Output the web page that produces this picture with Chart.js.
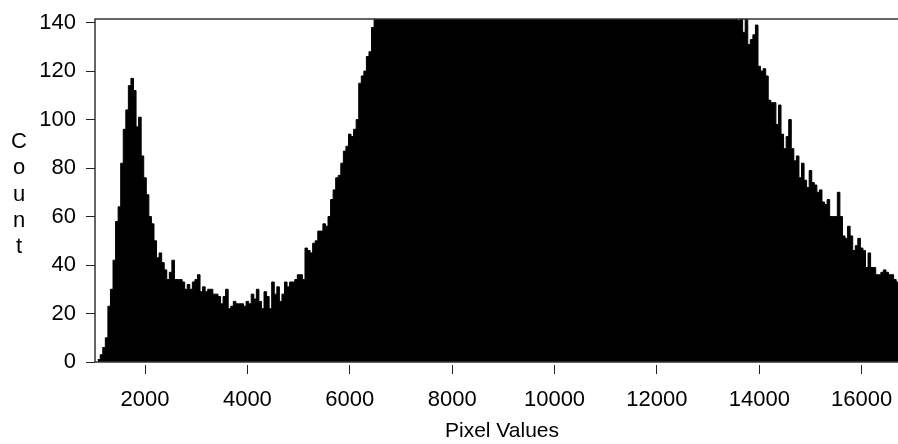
<!DOCTYPE html>
<html>
<head>
<meta charset="utf-8">
<script src="https://cdn.jsdelivr.net/npm/chart.js@4"></script>
<style>
  html, body { margin: 0; padding: 0; background: #fff; overflow: hidden; }
  #wrap { width: 912px; height: 444px; }
</style>
</head>
<body>
<div id="wrap"><canvas id="histo" width="912" height="444"></canvas></div>
<script>
// histogram bins: left edge of first bin and bin width, in pixel-value units
const binStart = 1075;
const binWidth = 50;

// low peak and the rise of the main hump
const riseCounts = [
  1, 3, 6, 10, 23, 30, 42, 58, 64, 82, 96, 104, 114, 117, 112, 97, 101, 85, 76, 69,
  60, 57, 50, 43, 45, 41, 38, 34, 37, 42, 34, 34, 34, 33, 30, 32, 30, 33, 34, 36,
  29, 31, 29, 30, 30, 28, 28, 27, 24, 27, 30, 22, 23, 25, 24, 24, 24, 23, 25, 24,
  28, 26, 30, 25, 22, 29, 27, 22, 33, 28, 31, 25, 28, 33, 31, 33, 33, 34, 36, 36,
  34, 47, 46, 45, 49, 50, 54, 54, 57, 56, 60, 67, 71, 76, 77, 82, 87, 89, 94, 93,
  96, 100, 115, 118, 120, 126, 128, 138
];

// main hump, off the top of the plot
const plateauCounts = [
  150, 158, 166, 171, 180, 186, 193, 200, 207, 213, 221, 228,
  234, 241, 246, 252, 259, 263, 270, 274, 279, 284, 288, 292,
  296, 300, 303, 307, 309, 312, 315, 317, 318, 320, 322, 323,
  324, 326, 327, 327, 328, 329, 330, 330, 331, 331, 331, 332,
  332, 331, 331, 330, 330, 329, 328, 327, 326, 325, 323, 322,
  320, 318, 317, 315, 312, 310, 308, 305, 302, 300, 297, 294,
  291, 288, 285, 281, 278, 274, 270, 267, 263, 259, 255, 251,
  247, 243, 239, 235, 231, 227, 223, 219, 215, 211, 207, 203,
  200, 196, 192, 189, 185, 182, 179, 176, 173, 170, 167, 165,
  162, 160, 158, 156, 154, 152, 150, 149, 148, 147, 146, 146,
  145, 145, 146, 147, 145, 148, 146, 147, 149, 145, 146, 148,
  147, 146, 145, 149, 146, 144, 147, 145, 143, 146
];

// falling tail
const fallCounts = [
  141, 150, 136, 145, 131, 133, 135, 139, 122, 120, 121, 118, 108, 107, 107, 98,
  106, 94, 88, 93, 100, 88, 83, 85, 76, 82, 75, 72, 79, 74, 73, 70, 71, 66, 65, 67,
  60, 60, 60, 70, 60, 52, 51, 56, 52, 46, 48, 51, 47, 46, 39, 45, 39, 39, 36, 36,
  37, 38, 37, 36, 36, 34, 33, 33, 32, 34, 31, 32
];

const xTicks = [2000, 4000, 6000, 8000, 10000, 12000, 14000, 16000];
const yTicks = [0, 20, 40, 60, 80, 100, 120, 140];
const yLetters = ['C', 'o', 'u', 'n', 't'];

const counts = riseCounts.concat(plateauCounts, fallCounts);
const points = counts.map((c, i) => ({ x: binStart + i * binWidth, y: c }));
// close the last bin
points.push({ x: binStart + counts.length * binWidth, y: counts[counts.length - 1] });

const fontFamily = '"Liberation Sans", Arial, sans-serif';

// box round the plot + the stacked "Count" label
const framePlugin = {
  id: 'frame',
  afterDatasetsDraw(chart) {
    const { ctx, chartArea: a } = chart;
    ctx.save();
    ctx.strokeStyle = '#333';
    ctx.lineWidth = 1.5;
    ctx.strokeRect(a.left, a.top, a.right - a.left, a.bottom - a.top);
    ctx.restore();
  },
  afterDraw(chart) {
    const ctx = chart.ctx;
    ctx.save();
    ctx.font = '22px ' + fontFamily;
    ctx.fillStyle = '#000';
    ctx.textAlign = 'center';
    yLetters.forEach((ch, i) => ctx.fillText(ch, 19, 148 + i * 26.3));
    ctx.restore();
  }
};

const ctx = document.getElementById('histo').getContext('2d');

new Chart(ctx, {
  type: 'line',
  data: {
    datasets: [{
      label: 'Count',
      data: points,
      stepped: true,
      fill: 'origin',
      backgroundColor: '#000',
      borderColor: '#000',
      borderWidth: 1,
      pointRadius: 0,
    }]
  },
  options: {
    responsive: false,
    animation: false,
    layout: { padding: { top: 19, right: 3, bottom: 0, left: 0 } },
    plugins: { legend: { display: false }, tooltip: { enabled: false } },
    scales: {
      x: {
        type: 'linear',
        min: 1023,
        max: 16925,
        afterBuildTicks: s => { s.ticks = xTicks.map(v => ({ value: v })); },
        afterFit: s => { s.height = 82; s.paddingLeft = 0; s.paddingRight = 0; },
        ticks: {
          color: '#000',
          font: { family: fontFamily, size: 22 },
          padding: 13,
          maxRotation: 0,
          autoSkip: false,
          callback: v => String(v),
        },
        grid: {
          drawOnChartArea: false,
          tickLength: 12,
          tickColor: '#222',
          tickBorderDash: [0, 3, 9, 100],
        },
        border: { display: false },
        title: {
          display: true,
          text: 'Pixel Values',
          color: '#000',
          font: { family: fontFamily, size: 21 },
          padding: { top: 8, bottom: 0 },
        },
      },
      y: {
        min: 0,
        max: 141.5,
        afterBuildTicks: s => { s.ticks = yTicks.map(v => ({ value: v })); },
        afterFit: s => { s.width = 95; s.paddingTop = 0; s.paddingBottom = 0; },
        ticks: {
          color: '#000',
          font: { family: fontFamily, size: 22 },
          padding: 10,
        },
        grid: {
          drawOnChartArea: false,
          tickLength: 9,
          tickColor: '#222',
        },
        border: { display: false },
      }
    }
  },
  plugins: [framePlugin]
});
</script>
</body>
</html>
